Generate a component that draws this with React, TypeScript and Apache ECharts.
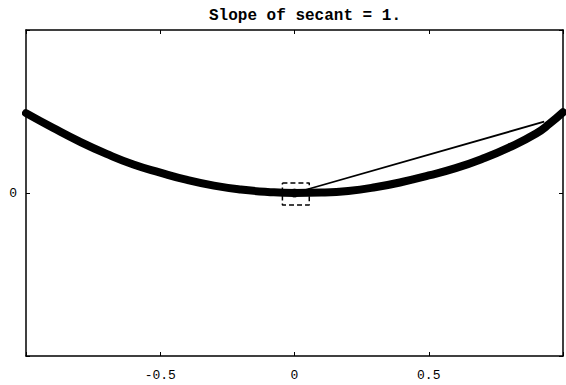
import React, { useEffect, useRef } from "react";
import * as echarts from "echarts";

const titleText = "Slope of secant = 1.";
const curveX = [-1, -0.9, -0.8, -0.7, -0.6, -0.5, -0.4, -0.3, -0.2, -0.1, 0, 0.1, 0.2, 0.3, 0.4, 0.5, 0.6, 0.7, 0.8, 0.9, 0.95, 1.0];
const curveY = [0.98, 0.8, 0.63, 0.48, 0.35, 0.25, 0.16, 0.09, 0.042, 0.013, 0.0, 0.005, 0.025, 0.07, 0.135, 0.215, 0.305, 0.42, 0.56, 0.73, 0.85, 0.99];
const secantX = [0, 0.93];
const secantY = [0, 0.875];
const boxX = [-0.045, 0.055, 0.055, -0.045, -0.045];
const boxY = [0.122, 0.122, -0.147, -0.147, 0.122];
const pointX = [0];
const pointY = [0];
const xTickLabels = ["-0.5", "0", "0.5"];
const yTickLabels = ["0"];

const zip = (xs: number[], ys: number[]) => xs.map((x, i) => [x, ys[i]]);

export default function App() {
  const ref = useRef<HTMLDivElement>(null);
  useEffect(() => {
    if (!ref.current) return;
    const chart = echarts.init(ref.current, null, { renderer: "svg" });
    const font = "Liberation Mono";
    const xFmt = (v: number) => {
      const s = v === 0 ? "0" : String(v);
      return xTickLabels.includes(s) ? s : "";
    };
    const yFmt = (v: number) => {
      const s = String(v);
      return yTickLabels.includes(s) ? s : "";
    };
    const baseX = {
      type: "value" as const,
      min: -1,
      max: 1,
      interval: 0.5,
      splitLine: { show: false },
      axisLine: { show: true, onZero: false, lineStyle: { color: "#000", width: 1.5 } },
      axisTick: { show: true, inside: true, length: 4, lineStyle: { color: "#000", width: 1 } },
    };
    const baseY = {
      type: "value" as const,
      min: -2,
      max: 2,
      interval: 2,
      splitLine: { show: false },
      axisLine: { show: true, onZero: false, lineStyle: { color: "#000", width: 1.5 } },
      axisTick: { show: true, inside: true, length: 4, lineStyle: { color: "#000", width: 1 } },
    };
    chart.setOption({
      animation: false,
      backgroundColor: "#fff",
      title: {
        text: titleText,
        left: 300,
        textAlign: "center",
        top: 3,
        textStyle: { fontFamily: font, fontWeight: "bold", fontSize: 16, color: "#000" },
      },
      grid: { left: 26, right: 1, top: 30, bottom: 29 },
      xAxis: [
        {
          ...baseX,
          position: "bottom",
          axisLabel: { show: true, margin: 13, fontFamily: font, fontSize: 13, color: "#000", formatter: xFmt },
        },
        { ...baseX, position: "top", axisLabel: { show: false } },
      ],
      yAxis: [
        {
          ...baseY,
          position: "left",
          axisLabel: { show: true, margin: 9, fontFamily: font, fontSize: 13, color: "#000", formatter: yFmt },
        },
        { ...baseY, position: "right", axisLabel: { show: false } },
      ],
      series: [
        {
          type: "line",
          data: zip(curveX, curveY),
          smooth: 0.5,
          showSymbol: false,
          lineStyle: { color: "#000", width: 8, cap: "round" },
          clip: true,
        },
        {
          type: "line",
          data: zip(secantX, secantY),
          showSymbol: false,
          lineStyle: { color: "#000", width: 1.8 },
        },
        {
          type: "line",
          data: zip(boxX, boxY),
          showSymbol: false,
          lineStyle: { color: "#000", width: 1.5, type: [5, 3] },
        },
        {
          type: "scatter",
          data: zip(pointX, pointY),
          symbolSize: 9,
          itemStyle: { color: "#000" },
        },
      ],
    });
    return () => chart.dispose();
  }, []);
  return (
    <div
      ref={ref}
      style={{ position: "fixed", left: 0, top: 0, width: 566, height: 385, background: "#fff" }}
    />
  );
}
